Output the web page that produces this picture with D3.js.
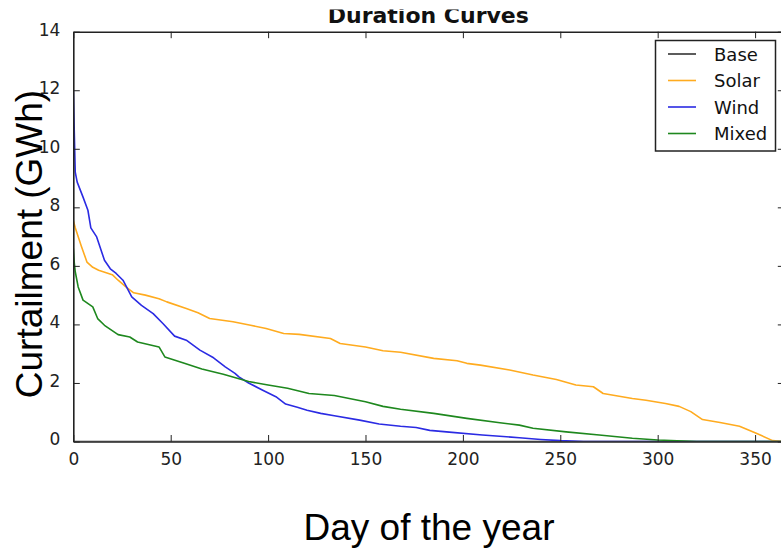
<!DOCTYPE html>
<html>
<head>
<meta charset="utf-8">
<script src="https://cdn.jsdelivr.net/npm/d3@7"></script>
<style>
  html, body { margin: 0; padding: 0; background: #fff; }
  svg { display: block; }
</style>
</head>
<body>
<svg id="chart" width="781" height="549"></svg>
<script>
// ---- Data (day index, curtailment GWh) ----
const seriesNames = ["Base", "Solar", "Wind", "Mixed"];
const seriesColors = ["#333333", "#ffab1f", "#2b2be3", "#1e881e"];

const baseCurve = [[0, 0], [365, 0]];

const solarCurve = [
  [0, 7.55], [1, 7.3], [4, 6.7], [7, 6.13], [10, 5.95], [13, 5.85], [20, 5.7],
  [23, 5.51], [27, 5.28], [31, 5.08], [37, 5.0], [44, 4.88], [48, 4.77], [58, 4.54],
  [64, 4.4], [70, 4.2], [82, 4.09], [91, 3.97], [99, 3.86], [108, 3.69], [116, 3.66],
  [132, 3.52], [137, 3.35], [150, 3.23], [159, 3.1], [168, 3.05], [185, 2.84],
  [197, 2.76], [202, 2.67], [209, 2.61], [224, 2.44], [236, 2.27], [248, 2.12],
  [258, 1.93], [267, 1.87], [272, 1.64], [287, 1.47], [294, 1.41], [304, 1.3],
  [311, 1.2], [317, 1.02], [323, 0.75], [332, 0.65], [342, 0.52], [350, 0.3],
  [359, 0.03], [365, 0]
];

const windCurve = [
  [0, 12.0], [1, 9.2], [2, 8.86], [5, 8.35], [7.5, 7.9], [9, 7.3], [12, 6.99],
  [16, 6.19], [19, 5.9], [22, 5.74], [25.5, 5.51], [30, 4.94], [35, 4.65], [41, 4.37],
  [46, 4.03], [52, 3.6], [58, 3.46], [65, 3.12], [72, 2.86], [78, 2.55], [83, 2.33],
  [85, 2.21], [90, 2.0], [97, 1.76], [104, 1.53], [109, 1.28], [115, 1.17], [120, 1.07],
  [127, 0.96], [134, 0.88], [147, 0.73], [157, 0.6], [168, 0.52], [176, 0.48],
  [183, 0.38], [193, 0.32], [210, 0.22], [229, 0.13], [240, 0.07], [250, 0.03],
  [262, 0.0], [365, 0]
];

const mixedCurve = [
  [0, 6.6], [0.5, 6.1], [1, 5.8], [2.5, 5.28], [5, 4.83], [10, 4.6], [12.5, 4.2],
  [16, 3.97], [23, 3.65], [29, 3.57], [33, 3.4], [44, 3.23], [47, 2.89], [57, 2.67],
  [66, 2.48], [77, 2.3], [90, 2.05], [100, 1.93], [110, 1.82], [121, 1.64], [134, 1.57],
  [150, 1.36], [159, 1.2], [168, 1.1], [185, 0.96], [202, 0.79], [219, 0.64],
  [229, 0.56], [236, 0.45], [253, 0.33], [270, 0.22], [287, 0.11], [300, 0.05],
  [320, 0.0], [365, 0]
];

const xTicks = [0, 50, 100, 150, 200, 250, 300, 350];
const yTicks = [0, 2, 4, 6, 8, 10, 12, 14];
const chartTitle = "Duration Curves";
const xLabel = "Day of the year";
const yLabel = "Curtailment (GWh)";

// ---- Layout ----
const svg = d3.select("#chart");
const mLeft = 73.3, mRight = 784.3, mTop = 31.7, mBottom = 441.5;

const x = d3.scaleLinear().domain([0, 365]).range([mLeft, mRight]);
const y = d3.scaleLinear().domain([0, 14]).range([mBottom, mTop]);

const tickFont = "'DejaVu Sans', sans-serif";
const axisColor = "#222";

// Clip for data
svg.append("clipPath").attr("id", "plotClip")
  .append("rect").attr("x", mLeft).attr("y", mTop)
  .attr("width", mRight - mLeft).attr("height", mBottom - mTop);

// Lines
const line = d3.line().x(d => x(d[0])).y(d => y(d[1]));
const curves = [baseCurve, solarCurve, windCurve, mixedCurve];
const gLines = svg.append("g").attr("clip-path", "url(#plotClip)");
curves.forEach((c, i) => {
  gLines.append("path")
    .datum(c)
    .attr("fill", "none")
    .attr("stroke", seriesColors[i])
    .attr("stroke-width", 1.6)
    .attr("stroke-linejoin", "round")
    .attr("d", line);
});

// Axes (ticks inward on all four sides)
const tickLen = 6.5;
const axB = svg.append("g").attr("transform", `translate(0,${mBottom})`)
  .call(d3.axisBottom(x).tickValues(xTicks).tickSizeInner(-tickLen).tickSizeOuter(0).tickPadding(11));
const axT = svg.append("g").attr("transform", `translate(0,${mTop})`)
  .call(d3.axisTop(x).tickValues(xTicks).tickSizeInner(-tickLen).tickSizeOuter(0).tickFormat(""));
const axL = svg.append("g").attr("transform", `translate(${mLeft},0)`)
  .call(d3.axisLeft(y).tickValues(yTicks).tickSizeInner(-tickLen).tickSizeOuter(0).tickPadding(13));
const axR = svg.append("g").attr("transform", `translate(${mRight},0)`)
  .call(d3.axisRight(y).tickValues(yTicks).tickSizeInner(-tickLen).tickSizeOuter(0).tickFormat(""));

[axB, axT, axL, axR].forEach(g => {
  g.select(".domain").attr("stroke", axisColor).attr("stroke-width", 1.6);
  g.selectAll(".tick line").attr("stroke", axisColor).attr("stroke-width", 1);
  g.selectAll(".tick text").attr("fill", axisColor)
    .style("font-family", tickFont).style("font-size", "17px");
});
axL.selectAll(".tick text").attr("dy", "0.2em");
axB.selectAll(".tick text").attr("dy", "0.71em");

// Title (top cut off as in the reference)
svg.append("clipPath").attr("id", "titleClip")
  .append("rect").attr("x", 0).attr("y", 9.5).attr("width", 781).attr("height", 30);
svg.append("text")
  .attr("clip-path", "url(#titleClip)")
  .attr("x", (mLeft + mRight) / 2 - 0.5).attr("y", 22.7)
  .attr("text-anchor", "middle")
  .style("font-family", tickFont).style("font-weight", "bold").style("font-size", "22px")
  .attr("fill", "#111")
  .text(chartTitle);

// Axis labels
svg.append("text")
  .attr("x", 429).attr("y", 540)
  .attr("text-anchor", "middle")
  .style("font-family", "'Liberation Sans', Arial, sans-serif").style("font-size", "37px")
  .attr("fill", "#000")
  .text(xLabel);

svg.append("text")
  .attr("transform", "translate(42,244) rotate(-90)")
  .attr("text-anchor", "middle")
  .style("font-family", "'Liberation Sans', Arial, sans-serif").style("font-size", "37px")
  .attr("fill", "#000")
  .text(yLabel);

// Legend
const lg = svg.append("g");
lg.append("rect").attr("x", 655.5).attr("y", 40.5).attr("width", 120).attr("height", 110.5)
  .attr("fill", "#fff").attr("stroke", "#222").attr("stroke-width", 1.5);
const lineYs = [54, 80.5, 107, 133.5];
seriesNames.forEach((name, i) => {
  lg.append("line").attr("x1", 668).attr("x2", 696)
    .attr("y1", lineYs[i]).attr("y2", lineYs[i])
    .attr("stroke", seriesColors[i]).attr("stroke-width", 1.6);
  lg.append("text").attr("x", 714).attr("y", lineYs[i] + 6.5)
    .style("font-family", tickFont).style("font-size", "18px")
    .attr("fill", "#111").text(name);
});
</script>
</body>
</html>
